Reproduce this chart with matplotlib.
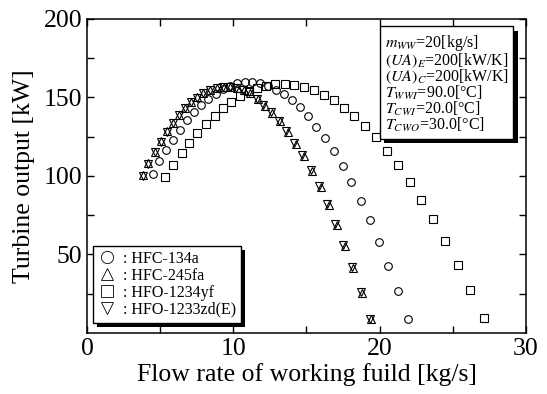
import matplotlib
matplotlib.use('Agg')
import matplotlib.pyplot as plt
import matplotlib.patheffects as pe
from matplotlib.ticker import MultipleLocator

plt.rcParams['font.family'] = ['Liberation Serif', 'DejaVu Serif']
plt.rcParams['mathtext.fontset'] = 'stix'

# Datos (caudal [kg/s], potencia [kW])
x_134a = [4.5, 4.95, 5.4, 5.9, 6.37, 6.85, 7.33, 7.78, 8.29, 8.79, 9.27, 9.76, 10.25,
          10.8, 11.3, 11.8, 12.35, 12.9, 13.45, 14.0, 14.54, 15.09, 15.68, 16.25,
          16.87, 17.47, 18.06, 18.7, 19.34, 19.97, 20.6, 21.27, 21.94]
y_134a = [101, 109.5, 116.5, 123, 129.5, 135.5, 140.6, 145, 149.2, 152.4, 155.3, 157.5, 159,
          160, 160, 159, 157.3, 155, 152, 148.4, 143.7, 138, 131.4, 124.4,
          115.9, 106.6, 95.9, 84.3, 71.8, 58, 42.9, 26.8, 9.1]

x_245fa = [3.8, 4.18, 4.63, 5.04, 5.45, 5.86, 6.27, 6.68, 7.14, 7.55, 7.96, 8.42, 8.88,
           9.34, 9.79, 10.25, 10.7, 11.16, 11.69, 12.14, 12.65, 13.2, 13.72, 14.25,
           14.82, 15.38, 15.96, 16.53, 17.08, 17.6, 18.19, 18.8, 19.42]
y_245fa = [100.4, 108, 115.3, 122, 128.3, 133.9, 139, 143.2, 146.9, 150, 152.6, 154.6, 155.8,
           156.7, 156.9, 156, 154.8, 153.1, 148.7, 144.6, 140.2, 134.7, 127.8, 120.4,
           112.5, 103.4, 92.8, 81.5, 69, 55.6, 41.2, 25.6, 8.7]

x_1234yf = [5.36, 5.91, 6.46, 7.0, 7.55, 8.12, 8.72, 9.29, 9.86, 10.45, 11.05, 11.63, 12.26,
            12.87, 13.52, 14.18, 14.83, 15.52, 16.2, 16.87, 17.56, 18.24, 18.99, 19.75,
            20.5, 21.27, 22.07, 22.85, 23.65, 24.49, 25.34, 26.2, 27.1]
y_1234yf = [99.4, 107.2, 114.4, 121.2, 127.6, 133.3, 138.4, 143.1, 147.3, 150.9, 153.9, 155.8, 157.4,
            158.5, 158.8, 158.2, 156.5, 154.8, 151.8, 148.4, 143.3, 138.2, 131.8, 124.6,
            116, 107.2, 96.4, 84.7, 72.4, 58.6, 43.3, 27.2, 9.6]

x_1233zd = [3.8, 4.18, 4.62, 5.03, 5.44, 5.85, 6.26, 6.67, 7.12, 7.53, 7.94, 8.4, 8.86,
            9.31, 9.76, 10.21, 10.65, 11.1, 11.6, 12.05, 12.55, 13.1, 13.62, 14.15,
            14.72, 15.28, 15.86, 16.43, 16.98, 17.5, 18.09, 18.7, 19.32]
y_1233zd = [100.2, 107.8, 115.1, 121.8, 128.2, 133.8, 138.9, 143.1, 146.8, 149.9, 152.5, 154.5, 155.7,
            156.6, 156.8, 156, 154.9, 153.2, 149, 145, 140.6, 135.2, 128.3, 121,
            113.1, 104, 93.4, 82, 69.5, 56.1, 41.7, 26, 9.1]

etiquetas = [': HFC-134a', ': HFC-245fa', ': HFO-1234yf', ': HFO-1233zd(E)']

condiciones = ('$m_{WW}$=20[kg/s]\n'
               '$(UA)_E$=200[kW/K]\n'
               '$(UA)_C$=200[kW/K]\n'
               '$T_{WWI}$=90.0[°C]\n'
               '$T_{CWI}$=20.0[°C]\n'
               '$T_{CWO}$=30.0[°C]')

fig = plt.figure(figsize=(5.47, 3.94), dpi=100)
ax = fig.add_axes([0.159, 0.155, 0.8026, 0.797])

estilo = dict(linestyle='none', mfc='none', mec='k', ms=5.5, mew=0.8)
ax.plot(x_134a, y_134a, marker='o', label=etiquetas[0], **estilo)
ax.plot(x_245fa, y_245fa, marker='^', label=etiquetas[1], **estilo)
ax.plot(x_1234yf, y_1234yf, marker='s', label=etiquetas[2], **estilo)
ax.plot(x_1233zd, y_1233zd, marker='v', label=etiquetas[3], **estilo)

ax.set_xlim(0, 30)
ax.set_ylim(0, 200)
ax.set_xticks([0, 10, 20, 30])
ax.xaxis.set_minor_locator(MultipleLocator(5))
ax.set_yticks([50, 100, 150, 200])
ax.set_yticks([25, 75, 125, 175], minor=True)
ax.tick_params(which='both', direction='in', top=True, right=True, length=5,
               width=1, labelsize=18.5)
for s in ax.spines.values():
    s.set_linewidth(1.1)

ax.set_xlabel('Flow rate of working fuild [kg/s]', fontsize=18.5, labelpad=2)
ax.set_ylabel('Turbine output [kW]', fontsize=18.5, labelpad=6)

sombra = [pe.SimplePatchShadow(offset=(3, -3), shadow_rgbFace='k', alpha=1), pe.Normal()]

leg = ax.legend(loc='lower left', bbox_to_anchor=(0.014, 0.033), borderaxespad=0,
                fontsize=11.5, markerscale=1.6, handlelength=1.2, handletextpad=0.35,
                labelspacing=0.06, borderpad=0.3, fancybox=False, framealpha=1,
                edgecolor='k')
leg.get_frame().set_linewidth(1.0)
leg.get_frame().set_path_effects(sombra)
for h in leg.legend_handles:
    h.set_markeredgewidth(0.6)

t = ax.text(0.678, 0.955, condiciones, transform=ax.transAxes, fontsize=11.5,
            va='top', ha='left', linespacing=0.86,
            bbox=dict(boxstyle='square,pad=0.3', fc='white', ec='k', lw=1.0))
t.get_bbox_patch().set_path_effects(sombra)

fig.savefig('out.png', dpi=100)
